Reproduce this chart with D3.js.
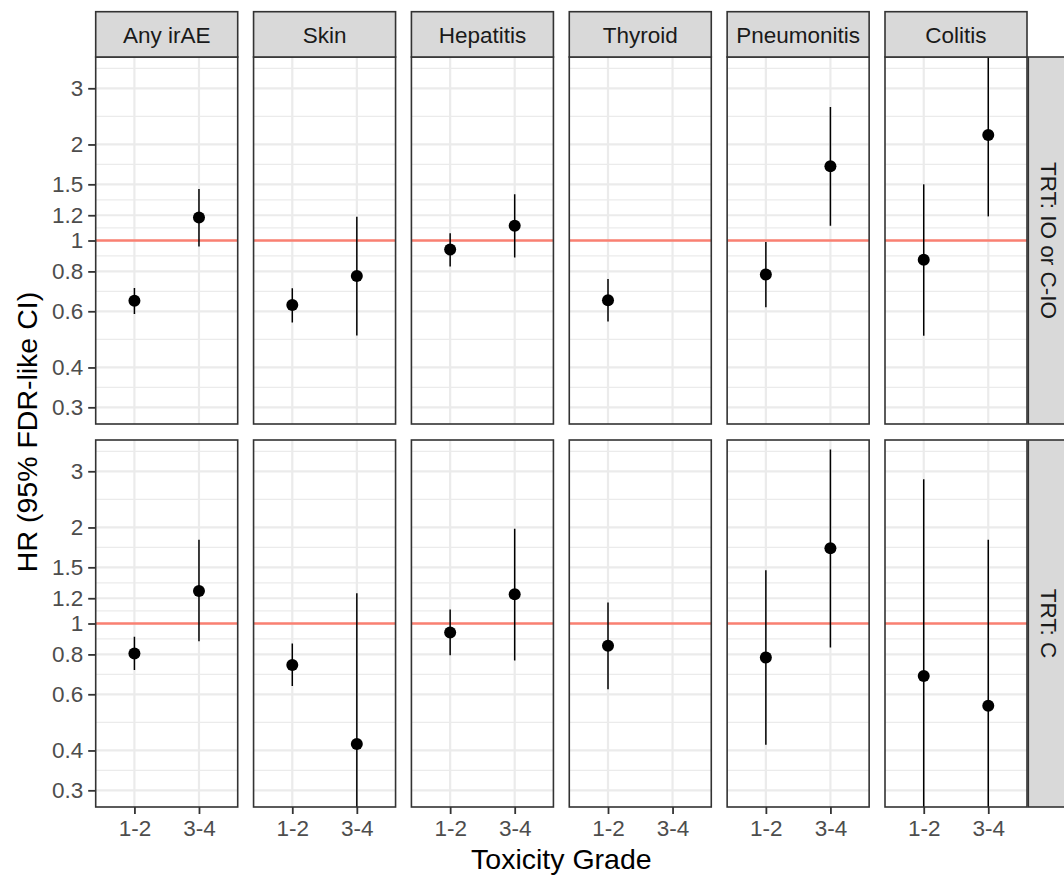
<!DOCTYPE html>
<html lang="en">
<head>
    <meta charset="UTF-8">
    <script src="https://d3js.org/d3.v7.min.js" charset="utf-8"></script>
    <title>HR by irAE and grade</title>
    <style>
        body { margin: 0; background: #fff; }
        svg text { font-family: "Liberation Sans", Arial, Helvetica, sans-serif; }
    </style>
</head>
<body>
    <div id="chart"></div>

    <script>
        const svgWidth = 1064;
        const svgHeight = 875;

        // facets
        const irAEs = ["Any irAE", "Skin", "Hepatitis", "Thyroid", "Pneumonitis", "Colitis"];
        const treatments = ["TRT: IO or C-IO", "TRT: C"];
        const grades = ["1-2", "3-4"];
        const yBreaks = [0.3, 0.4, 0.6, 0.8, 1, 1.2, 1.5, 2, 3];
        const yLimits = [0.3, 1 / 0.3];

        // order: irAE by irAE, grade 1-2 then 3-4 (null = no estimate)
        const hrIO    = [0.647, 1.18, 0.628, 0.774, 0.937, 1.112, 0.650, null, 0.782, 1.71, 0.870, 2.14];
        const lowerIO = [0.588, 0.957, 0.553, 0.504, 0.829, 0.884, 0.557, null, 0.618, 1.112, 0.503, 1.19];
        const upperIO = [0.710, 1.45, 0.708, 1.186, 1.054, 1.397, 0.757, null, 0.989, 2.62, 1.50, 4.2];

        const hrC    = [0.806, 1.265, 0.741, 0.419, 0.937, 1.235, 0.852, null, 0.782, 1.72, 0.685, 0.552];
        const lowerC = [0.715, 0.879, 0.637, 0.2, 0.795, 0.766, 0.622, null, 0.417, 0.841, 0.15, 0.15];
        const upperC = [0.908, 1.83, 0.866, 1.244, 1.106, 1.98, 1.163, null, 1.468, 3.51, 2.83, 1.83];

        const series = [
            { hr: hrIO, lower: lowerIO, upper: upperIO },
            { hr: hrC, lower: lowerC, upper: upperC }
        ];

        // layout
        const panelLeft = 95.7, panelStep = 157.86, panelW = 142;
        const rowTop = [57, 440], panelH = 367;
        const stripTop = 11.7;
        const stripRightX = 1028.3, stripW = 45;

        const svg = d3.select("#chart").append("svg")
            .attr("width", svgWidth)
            .attr("height", svgHeight);

        // log scale with 5% expansion like ggplot
        const span = Math.log10(yLimits[1]) - Math.log10(yLimits[0]);
        const yDomain = [
            Math.pow(10, Math.log10(yLimits[0]) - 0.05 * span),
            Math.pow(10, Math.log10(yLimits[1]) + 0.05 * span)
        ];
        const y = d3.scaleLog().domain(yDomain).range([panelH, 0]);
        const x = d3.scalePoint().domain(grades).range([0, panelW]).padding(0.6);

        // minor breaks halfway (in log space) between major breaks
        const extBreaks = [0.2, ...yBreaks, 4];
        const yMinor = d3.pairs(extBreaks).map(([a, b]) => Math.sqrt(a * b))
            .filter(v => v > yDomain[0] && v < yDomain[1]);

        svg.append("defs").append("clipPath").attr("id", "panel-clip")
            .append("rect").attr("width", panelW).attr("height", panelH);

        treatments.forEach((trt, r) => {
            irAEs.forEach((name, c) => {
                const g = svg.append("g")
                    .attr("transform", `translate(${panelLeft + c * panelStep},${rowTop[r]})`);

                g.selectAll(".minor").data(yMinor).join("line")
                    .attr("x1", 0).attr("x2", panelW)
                    .attr("y1", d => y(d)).attr("y2", d => y(d))
                    .attr("stroke", "#ebebeb").attr("stroke-width", 1.2);

                g.selectAll(".major").data(yBreaks).join("line")
                    .attr("x1", 0).attr("x2", panelW)
                    .attr("y1", d => y(d)).attr("y2", d => y(d))
                    .attr("stroke", "#ebebeb").attr("stroke-width", 2.2);

                g.selectAll(".xgrid").data(grades).join("line")
                    .attr("x1", d => x(d)).attr("x2", d => x(d))
                    .attr("y1", 0).attr("y2", panelH)
                    .attr("stroke", "#ebebeb").attr("stroke-width", 2.2);

                g.append("line")
                    .attr("x1", 0).attr("x2", panelW)
                    .attr("y1", y(1)).attr("y2", y(1))
                    .attr("stroke", "#FA8072").attr("stroke-width", 2.4);

                const s = series[r];
                const rows = grades.map((gr, k) => ({
                    grade: gr,
                    hr: s.hr[c * 2 + k],
                    lower: s.lower[c * 2 + k],
                    upper: s.upper[c * 2 + k]
                })).filter(d => d.hr !== null);

                const marks = g.append("g").attr("clip-path", "url(#panel-clip)");
                marks.selectAll("line").data(rows).join("line")
                    .attr("x1", d => x(d.grade)).attr("x2", d => x(d.grade))
                    .attr("y1", d => y(d.lower)).attr("y2", d => y(d.upper))
                    .attr("stroke", "#000").attr("stroke-width", 1.5);
                marks.selectAll("circle").data(rows).join("circle")
                    .attr("cx", d => x(d.grade)).attr("cy", d => y(d.hr))
                    .attr("r", 6).attr("fill", "#000");

                g.append("rect")
                    .attr("width", panelW).attr("height", panelH)
                    .attr("fill", "none").attr("stroke", "#333333").attr("stroke-width", 1.6);

                // y axis on first column
                if (c === 0) {
                    const yAxis = g.append("g")
                        .call(d3.axisLeft(y).tickValues(yBreaks).tickFormat(d3.format("~g"))
                            .tickSize(7.5).tickPadding(5));
                    yAxis.select(".domain").remove();
                    yAxis.selectAll(".tick line").attr("stroke", "#333333").attr("stroke-width", 1.8);
                    yAxis.selectAll(".tick text").attr("fill", "#4d4d4d")
                        .style("font-size", "22.5px");
                }

                // x axis on bottom row
                if (r === treatments.length - 1) {
                    const xAxis = g.append("g")
                        .attr("transform", `translate(0,${panelH})`)
                        .call(d3.axisBottom(x).tickSize(7).tickPadding(6));
                    xAxis.select(".domain").remove();
                    xAxis.selectAll(".tick line").attr("stroke", "#333333").attr("stroke-width", 1.8);
                    xAxis.selectAll(".tick text").attr("fill", "#4d4d4d")
                        .style("font-size", "22.5px");
                }

                // top strips
                if (r === 0) {
                    svg.append("rect")
                        .attr("x", panelLeft + c * panelStep).attr("y", stripTop)
                        .attr("width", panelW).attr("height", rowTop[0] - stripTop)
                        .attr("fill", "#d9d9d9").attr("stroke", "#333333").attr("stroke-width", 1.6);
                    svg.append("text")
                        .attr("x", panelLeft + c * panelStep + panelW / 2)
                        .attr("y", 43.3)
                        .attr("text-anchor", "middle")
                        .attr("fill", "#1a1a1a")
                        .style("font-size", "22.5px")
                        .text(name);
                }
            });

            // right strips
            svg.append("rect")
                .attr("x", stripRightX).attr("y", rowTop[r])
                .attr("width", stripW).attr("height", panelH)
                .attr("fill", "#d9d9d9").attr("stroke", "#333333").attr("stroke-width", 1.6);
            svg.append("text")
                .attr("transform", `translate(${stripRightX + 12.5},${rowTop[r] + panelH / 2}) rotate(90)`)
                .attr("text-anchor", "middle")
                .attr("fill", "#1a1a1a")
                .style("font-size", "22.5px")
                .text(trt);
        });

        // axis titles
        svg.append("text")
            .attr("x", panelLeft + (5 * panelStep + panelW) / 2)
            .attr("y", 869)
            .attr("text-anchor", "middle")
            .attr("fill", "#000")
            .style("font-size", "28.5px")
            .text("Toxicity Grade");

        svg.append("text")
            .attr("transform", `translate(37,${(rowTop[0] + rowTop[1] + panelH) / 2}) rotate(-90)`)
            .attr("text-anchor", "middle")
            .attr("fill", "#000")
            .style("font-size", "28.5px")
            .text("HR (95% FDR-like CI)");
    </script>
</body>
</html>
